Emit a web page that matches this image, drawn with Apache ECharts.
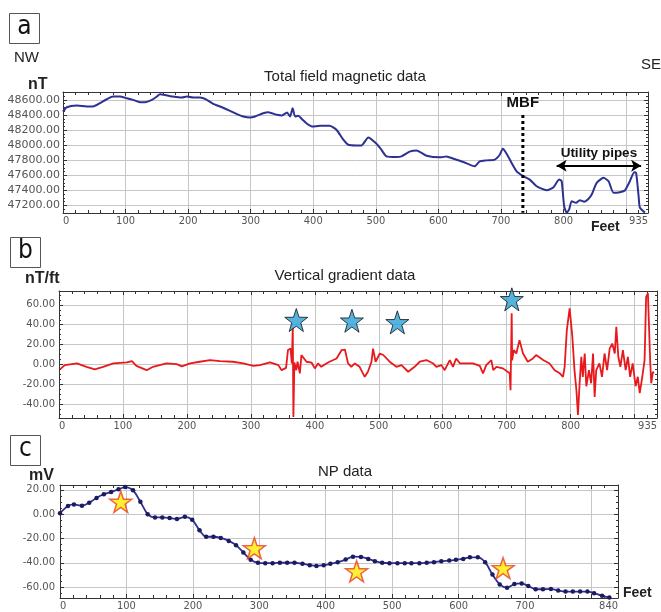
<!DOCTYPE html>
<html><head><meta charset="utf-8">
<script src="https://cdn.jsdelivr.net/npm/echarts@6/dist/echarts.min.js"></script>
<style>html,body{margin:0;padding:0;background:#fff}#c{width:661px;height:612px}</style>
</head><body><div id="c"></div>
<script>
// ---- Panel a: total field magnetic data ----
const feetA = [0,6,22,38,48,59,70,80,91,102,112,123,131,142,150,155,163,176,190,198,208,219,230,240,254,267,278,288,299,307,320,328,342,350,358,363,367,371,376,382,390,398,411,426,437,448,456,469,477,488,499,507,517,533,541,555,565,581,603,613,624,640,658,666,677,690,698,703,709,717,725,736,746,757,773,784,793,797,801,805,809,813,820,826,833,840,845,853,864,872,880,890,898,906,913,916,920,922,930];
const magA = [48445,48503,48525,48512,48512,48556,48609,48644,48644,48622,48600,48569,48569,48600,48644,48675,48666,48644,48631,48644,48631,48631,48600,48547,48503,48455,48411,48380,48366,48380,48424,48437,48402,48393,48433,48380,48490,48380,48389,48345,48283,48248,48256,48256,48204,48072,48005,47997,47997,48102,48036,47962,47851,47842,47851,47917,47930,47860,47838,47851,47820,47776,47719,47785,47798,47807,47873,47953,47887,47764,47653,47587,47543,47455,47402,47442,47543,47521,47190,47105,47147,47257,47235,47270,47250,47290,47345,47500,47566,47521,47367,47376,47398,47521,47640,47632,47323,47170,47105];
const mbfFeet = 735;
const mbfRange = [48400, 47102];
const pipesFeet = [789, 924];
const pipesLevel = 47728;

// ---- Panel b: vertical gradient data ----
const feetB = [1.5,9,28,43,56,69,85,106,114,121,137,147,168,184,192,205,220,236,252,272,288,304,314,330,343,348,355,358,362,364,365.5,366.5,368,371,373,376.6,379,381,387,395,400,405,410,418,423,434,442,447,452,457,462.5,470,478,483,488.6,491,495,501.6,507,517,527.6,535.5,546,556,564,574.5,585,590,598,603,611,616,621,627,637,647,658,663,668,676,679,684,694,704.7,706,707.8,708.5,711,715,720,725.5,733,741,746,757,767,775,783,788,790.6,794,798.4,802.6,806,809,811.4,814,816.7,819,822,824.5,828.6,832,835,837.5,840,845,849,853,857,861,865,869,871.4,874.5,877.7,881.7,886,889.5,893,897,901.6,905,908,912,915.6,918,920.8,922,924.5,926,928.6,930];
const gradB = [-5,-0.7,1,-2.4,-5,-2.4,1,2,3.3,-1.4,-5.8,-2.4,1,0.3,-2,1,2.7,4.3,3.3,2.7,1,-1.4,-0.7,2,-0.7,-5.8,-3.5,14.5,16,1,37,-53,2,-5.8,2.7,-9,9.4,11,2.7,1.7,-4,1,-2.4,1,2.7,6,14.5,15,1,-2.4,1,-2.4,-12.5,-7.4,2.7,16,2.7,11,9.5,2.7,-2.4,-0.7,-7.4,-2.4,2.7,4.4,1,-2.4,-0.7,-5.8,4.4,-2.4,6,1,1,1,-1.4,-9,-0.7,4.4,-5.8,-2.4,-4,-9,-26,51.5,4,14.5,11,24.5,11,2.7,6,9.4,4.4,1,-5.8,-9,-12.5,-2.4,34.6,56.5,28,-5.8,-26,-51,-19,7.7,-12.5,11,-22,-5.8,-19,11,-32.7,-5.8,1,-12.5,11,-5.8,16,21,11,38,7.7,-2.4,14.5,-5.8,7.7,-12.5,1,-22,-12.5,-29,-12.5,4.4,68,71.7,48,1,-19,-7.4,-9];
const starsBFeet = [371, 458, 529, 708];
const starsBVal = [44.7, 44, 42.4, 65.6];

// ---- Panel c: NP data ----
const feetC = [0,12,21,33,44,55,66,77,88,98,110,121,132,143,154,165,176,188,199,210,220,231,242,254,265,276,287,298,309,320,331,342,353,365,376,386,397,407,418,430,441,453,464,474,485,496,508,519,529,541,552,563,574,586,596,607,617,629,640,651,662,673,684,695,705,716,727,739,750,761,772,783,794,804,816,827];
const npC = [0.8,6.7,8,7,9.4,13.4,16.4,18.2,20.4,22.3,19.6,10.2,0,-2.7,-2.7,-3.2,-4,-2.2,-4.6,-13.2,-18.6,-18.6,-19.6,-22,-25.5,-31.5,-37.6,-40,-40.3,-40.3,-40,-40,-40,-40.8,-42,-42.6,-42,-40.9,-39.5,-37.4,-35,-35.2,-36.8,-38.7,-40,-40.3,-40.3,-40.3,-40.3,-40.3,-40,-39.5,-38.7,-38.2,-37.6,-36.8,-35.5,-35.5,-39.5,-49.7,-57.8,-60.5,-57.5,-57,-59.2,-61.8,-61.8,-61.5,-62.9,-63.7,-63.7,-63.7,-63.7,-65,-67.2,-68.5];
const starsCFeet = [91.5, 292.6, 446.5, 667];
const starsCVal = [10.2, -28, -47, -44.4];

// tick label lists
const hideXA = [900], hideXB = [900], hideXC = [800];

const zip = (a, b) => a.map((v, i) => [v, b[i]]);
const STAR = 'path://M50,0 L61.8,35.1 L98.9,35.4 L69.1,57.6 L80.2,93.1 L50,71.5 L19.8,93.1 L30.9,57.6 L1.1,35.4 L38.2,35.1 Z';
const AX = '#333', GRID = '#c6c6c6', LBL = '#555';
const xFont = "'Liberation Sans Narrow','DejaVu Sans Condensed',Arial,sans-serif";

function xAxes(gi, max, hide) {
  const base = {type:'value', gridIndex:gi, min:0, max:max, interval:100,
    axisLine:{show:true, onZero:false, lineStyle:{color:AX, width:1}},
    axisTick:{show:true, inside:true, length:4, lineStyle:{color:AX}},
    minorTick:{show:true, splitNumber:5, length:3, lineStyle:{color:AX}}};
  return [
    Object.assign({}, base, {position:'bottom',
      splitLine:{show:true, lineStyle:{color:GRID, width:1}},
      axisLabel:{show:true, margin:3, color:LBL, fontSize:11, fontFamily:xFont,
        showMinLabel:true, showMaxLabel:true, alignMinLabel:'left', alignMaxLabel:'right',
        formatter:v => hide.includes(v) ? '' : String(v)}}),
    Object.assign({}, base, {position:'top', splitLine:{show:false}, axisLabel:{show:false}})
  ];
}
function yAxes(gi, min, max, split, fs, margin) {
  const base = {type:'value', gridIndex:gi, min:min, max:max, splitNumber:split,
    axisLine:{show:true, onZero:false, lineStyle:{color:AX, width:1}},
    axisTick:{show:true, inside:true, length:4, lineStyle:{color:AX}},
    minorTick:{show:true, splitNumber:4, length:2, lineStyle:{color:AX}}};
  return [
    Object.assign({}, base, {position:'left',
      splitLine:{show:true, lineStyle:{color:GRID, width:1}},
      axisLabel:{show:true, margin:margin, color:LBL, fontSize:fs, fontFamily:"'DejaVu Sans',sans-serif",
        showMinLabel:false, showMaxLabel:false, formatter:v => v.toFixed(2)}}),
    Object.assign({}, base, {position:'right', splitLine:{show:false}, axisLabel:{show:false}})
  ];
}

const txt = (x, y, text, font, align) => ({type:'text', x:x, y:y, silent:true,
  style:{text:text, font:font, fill:'#222', align:align||'center', verticalAlign:'middle'}});
const box = (x, y, letter) => ([
  {type:'rect', shape:{x:x+0.5, y:y+0.5, width:30, height:30}, style:{fill:'#fff', stroke:'#555', lineWidth:1}},
  {type:'text', x:x+15.5, y:y+14, style:{text:letter, font:"26px 'Liberation Sans Narrow','DejaVu Sans Condensed',sans-serif", fill:'#111', align:'center', verticalAlign:'middle'}}
]);

const chart = echarts.init(document.getElementById('c'), null, {renderer:'canvas'});
chart.setOption({
  animation:false,
  backgroundColor:'#fff',
  grid:[
    {left:63, top:92, width:585, height:121},
    {left:59, top:291, width:598, height:127},
    {left:60, top:485, width:558, height:115}
  ],
  xAxis:[...xAxes(0, 935, hideXA), ...xAxes(1, 935, hideXB), ...xAxes(2, 840, hideXC)],
  yAxis:[...yAxes(0, 47100, 48705, 8, 11, 3), ...yAxes(1, -54, 74, 6, 10, 4), ...yAxes(2, -69, 24, 5, 10, 5)],
  series:[
    {type:'line', xAxisIndex:0, yAxisIndex:0, data:zip(feetA, magA), showSymbol:false, smooth:0.2,
      lineStyle:{color:'#2d3192', width:2},
      markLine:{silent:true, symbol:['arrow','arrow'], symbolSize:[9,10],
        lineStyle:{color:'#000', width:2, type:'solid'},
        label:{show:true, position:'middle', formatter:'Utility pipes', color:'#111', fontWeight:'bold', fontSize:13.5, fontFamily:'Arial', distance:5},
        data:[[{coord:[pipesFeet[0], pipesLevel]}, {coord:[pipesFeet[1], pipesLevel]}]]}},
    {type:'line', xAxisIndex:0, yAxisIndex:0, silent:true, showSymbol:true, symbol:'circle', symbolSize:1,
      itemStyle:{color:'rgba(0,0,0,0)'},
      data:[{value:[mbfFeet, mbfRange[0]],
        label:{show:true, position:'top', formatter:'MBF', color:'#111', fontWeight:'bold', fontSize:15, fontFamily:'Arial', distance:4}},
        [mbfFeet, mbfRange[1]]],
      lineStyle:{color:'#000', width:3, type:[3,3]}},
    {type:'line', xAxisIndex:2, yAxisIndex:2, data:zip(feetB, gradB), showSymbol:false,
      lineStyle:{color:'#e8191c', width:1.8}},
    {type:'scatter', xAxisIndex:2, yAxisIndex:2, data:zip(starsBFeet, starsBVal), symbol:STAR, symbolSize:23,
      itemStyle:{color:'#2aa0d8', borderColor:'#111', borderWidth:1}, z:5},
    {type:'line', xAxisIndex:4, yAxisIndex:4, data:zip(feetC, npC), showSymbol:true, symbol:'circle', symbolSize:4.5, smooth:0.3,
      itemStyle:{color:'#1b1b5e'}, lineStyle:{color:'#2d3192', width:1.8}},
    {type:'scatter', xAxisIndex:4, yAxisIndex:4, data:zip(starsCFeet, starsCVal), symbol:STAR, symbolSize:[22,21],
      itemStyle:{color:'#ffec00', borderColor:'#e8402a', borderWidth:1.5}, z:5}
  ],
  graphic:[
    ...box(9, 13, 'a'), ...box(10, 237, 'b'), ...box(10, 435, 'c'),
    txt(14, 58, 'NW', "15px Arial", 'left'),
    txt(641, 65, 'SE', "15px Arial", 'left'),
    txt(345, 77, 'Total field magnetic data', "15px Arial"),
    txt(345, 276, 'Vertical gradient data', "15px Arial"),
    txt(345, 472, 'NP data', "15px Arial"),
    txt(28, 85, 'nT', "bold 16px Arial", 'left'),
    txt(25, 279, 'nT/ft', "bold 16px Arial", 'left'),
    txt(29, 476, 'mV', "bold 16px Arial", 'left'),
    txt(591, 227, 'Feet', "bold 14px Arial", 'left'),
    txt(623, 593, 'Feet', "bold 14px Arial", 'left')
  ]
});
</script></body></html>
